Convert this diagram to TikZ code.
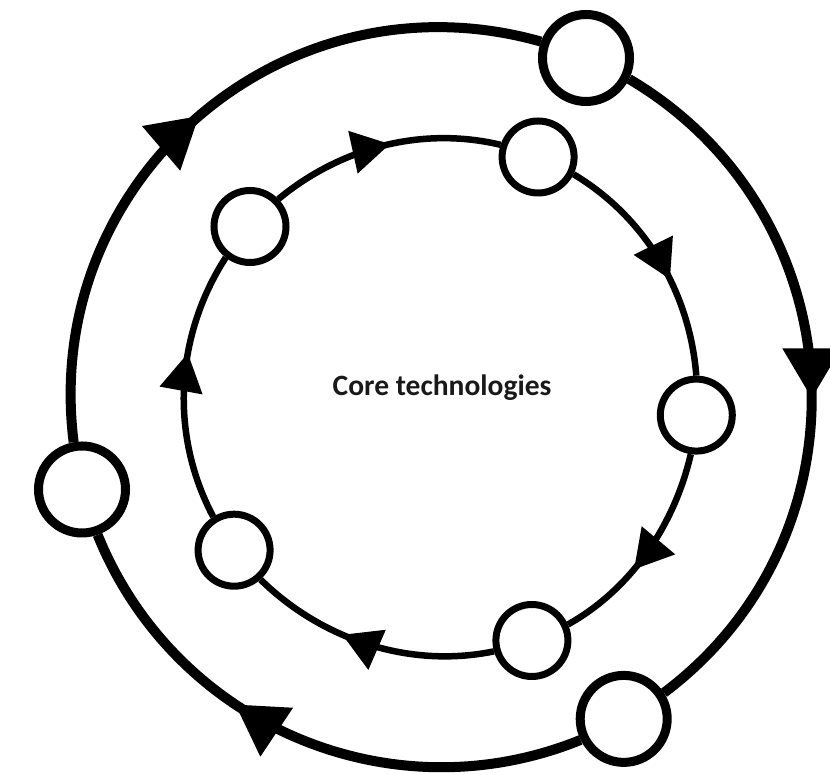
\documentclass[tikz,border=0pt]{standalone}
\usepackage{fontspec}
\setsansfont{Carlito}
\usetikzlibrary{arrows.meta,decorations.markings}
\begin{document}
\begin{tikzpicture}[x=1pt,y=1pt,
  outer node/.style={circle,draw,fill=white,line width=9pt,minimum size=87pt,inner sep=0pt},
  inner node/.style={circle,draw,fill=white,line width=7pt,minimum size=72pt,inner sep=0pt},
  outer ring/.style={line width=10pt},
  inner ring/.style={line width=6.5pt},
  big flow/.style={postaction={decorate},decoration={markings,mark=at position #1 with {\arrow{Triangle[length=50pt,width=56pt]}}}},
  small flow/.style={postaction={decorate},decoration={markings,mark=at position #1 with {\arrow{Triangle[length=38pt,width=42pt]}}}}]

  \useasboundingbox (0,0) rectangle (830,775);

  % outer cycle
  \node[outer node] at (586.0,717.0) (o1) {};
  \node[outer node] at (623.7,56.1) (o3) {};
  \node[outer node] at (82.0,285.5) (o2) {};

  % inner cycle
  \node[inner node] at (538.1,618.0) (i1) {};
  \node[inner node] at (696.3,359.9) (i3) {};
  \node[inner node] at (531.9,134.5) (i5) {};
  \node[inner node] at (234.1,224.8) (i4) {};
  \node[inner node] at (250.0,548.5) (i2) {};

  \node[font=\sffamily\bfseries\fontsize{29.5}{34}\selectfont,text=black!90] at (442,387) (core) {Core technologies};

  \path[outer ring]
  (o1.-26.9) edge[out=-30.6,in=36.9,distance=264.3pt,big flow=0.53] (o3.33.2)
  (o3.-154.2) edge[out=-157.9,in=-68,distance=205.1pt,big flow=0.62] (o2.-71.7)
  (o2.100.9) edge[out=97.2,in=164.2,distance=265.6pt,big flow=0.5] (o1.160.5);

  \path[inner ring]
  (i1.-26.5) edge[out=-30.9,in=94.5,distance=83.6pt,small flow=0.59] (i3.90.1)
  (i3.-98.7) edge[out=-103.1,in=29.2,distance=72.7pt,small flow=0.6] (i5.24.8)
  (i5.-164) edge[out=-168.4,in=-44.5,distance=86pt,small flow=0.61] (i4.-48.9)
  (i4.122.3) edge[out=117.9,in=237.2,distance=93.4pt,small flow=0.62] (i2.232.8)
  (i2.44) edge[out=39.6,in=166.7,distance=80.9pt,small flow=0.53] (i1.162.3);
\end{tikzpicture}
\end{document}
